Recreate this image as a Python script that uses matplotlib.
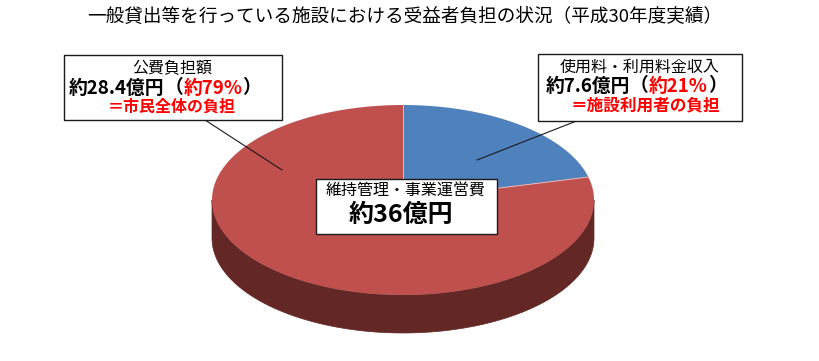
import numpy as np
import matplotlib
matplotlib.use("Agg")
import matplotlib.pyplot as plt
from matplotlib.patches import Polygon, Rectangle

plt.rcParams['font.family'] = ['Noto Sans CJK JP', 'DejaVu Sans']

# ---- data ----
title = "一般貸出等を行っている施設における受益者負担の状況（平成30年度実績）"
categories = ["使用料・利用料金収入", "公費負担額"]
values = [7.6, 28.4]          # 億円
percents = [21, 79]
top_colors = ["#4F81BD", "#C0504D"]
side_colors = ["#2B4A70", "#632725"]
total_label = "維持管理・事業運営費"
total_value = "約36億円"

W, H = 819, 361
fig = plt.figure(figsize=(W / 100, H / 100), dpi=100)
ax = fig.add_axes([0, 0, 1, 1])
ax.set_xlim(0, W)
ax.set_ylim(H, 0)
ax.axis('off')

# ---- 3D pie geometry ----
cx, cy, a, b, depth = 403, 200, 191, 95, 38


def pt(theta_deg, dy=0.0):
    t = np.radians(theta_deg)
    return cx + a * np.cos(t), cy - b * np.sin(t) + dy


fracs = np.array(values) / np.sum(values)
start = 90.0
slices = []
for f in fracs:
    end = start - f * 360.0
    slices.append((end, start))
    start = end

# side walls (front half only)
for (lo, hi), sc in zip(slices, side_colors):
    for k in (-1, 0, 1):
        flo, fhi = -180 + 360 * k, 0 + 360 * k
        s_lo, s_hi = max(lo, flo), min(hi, fhi)
        if s_hi > s_lo:
            th = np.linspace(s_lo, s_hi, 120)
            top = [pt(t) for t in th]
            bot = [pt(t, depth) for t in th[::-1]]
            ax.add_patch(Polygon(top + bot, closed=True, facecolor=sc,
                                 edgecolor=sc, lw=0.5, zorder=1))

# top faces
for (lo, hi), tc in zip(slices, top_colors):
    th = np.linspace(hi, lo, 300)
    poly = [(cx, cy)] + [pt(t) for t in th]
    ax.add_patch(Polygon(poly, closed=True, facecolor=tc, edgecolor='none',
                         zorder=2))
# radial separators
for lo, hi in slices:
    x1, y1 = pt(hi)
    ax.plot([cx, x1], [cy, y1], color='#E8B8B6', lw=0.7, zorder=3)

# ---- leader lines ----
ax.plot([205, 282], [120, 170], color='#1a1a1a', lw=0.8, zorder=4)
ax.plot([579, 477], [120, 160], color='#1a1a1a', lw=0.8, zorder=4)

# ---- boxes ----
def box(x0, y0, x1, y1):
    ax.add_patch(Rectangle((x0, y0), x1 - x0, y1 - y0, facecolor='white',
                           edgecolor='#1a1a1a', lw=1.0, zorder=5))

box(64, 55, 282, 120)
box(538, 54, 742, 121)
box(316, 179, 497, 234)

fig.canvas.draw()
renderer = fig.canvas.get_renderer()


def seg_line(xc, y, segments, size, weight='normal'):
    texts = []
    widths = []
    for s, c in segments:
        t = ax.text(0, y, s, color=c, fontsize=size, fontweight=weight,
                    ha='left', va='center', zorder=6)
        bb = t.get_window_extent(renderer=renderer)
        texts.append(t)
        widths.append(bb.width)
    total = sum(widths)
    x = xc - total / 2
    for t, w in zip(texts, widths):
        t.set_x(x)
        x += w


red = '#FF0000'
blk = '#000000'

# title
ax.text(405, 17, title, fontsize=13.4, ha='center', va='center', color=blk)

# left box
ax.text(172, 69, categories[1], fontsize=11.5, ha='center', va='center',
        color=blk, zorder=6)
seg_line(165, 88, [(f"約{values[1]}億円", blk), ("（", blk),
                   (f"約{percents[1]}%", red), ("）", blk)], 13.5, 'bold')
ax.text(172, 107, "＝市民全体の負担", fontsize=11.5, fontweight='bold',
        ha='center', va='center', color=red, zorder=6)

# right box
ax.text(640, 67, categories[0], fontsize=11.5, ha='center', va='center',
        color=blk, zorder=6)
seg_line(636, 86, [(f"約{values[0]}億円", blk), ("（", blk),
                   (f"約{percents[0]}%", red), ("）", blk)], 13.5, 'bold')
ax.text(645, 105, "＝施設利用者の負担", fontsize=12, fontweight='bold',
        ha='center', va='center', color=red, zorder=6)

# center box
ax.text(406, 191, total_label, fontsize=11.5, ha='center', va='center',
        color=blk, zorder=6)
ax.text(401, 215, total_value, fontsize=18, fontweight='bold', ha='center',
        va='center', color=blk, zorder=6)

fig.savefig("out.png", dpi=100)
